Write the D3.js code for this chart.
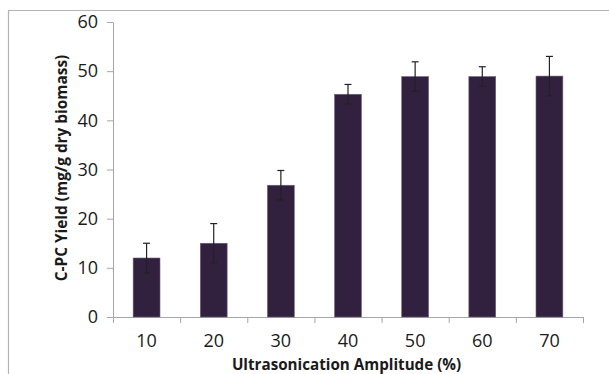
<!DOCTYPE html>
<html>
<head>
<meta charset="utf-8">
<script src="https://cdn.jsdelivr.net/npm/d3@7"></script>
<style>
  html, body { margin: 0; padding: 0; background: #fff; }
  svg { display: block; }
  text { font-family: "Open Sans", "Noto Sans", sans-serif; fill: #1a1a1a; }
</style>
</head>
<body>
<svg id="chart" width="609" height="374"></svg>
<script>
// Ultrasonication amplitude (%) vs. C-PC yield, mean ± error
const amplitudes = ["10", "20", "30", "40", "50", "60", "70"];
const yieldMean  = [12.0, 15.0, 26.8, 45.3, 48.9, 48.9, 49.0];
const yieldError = [3.0, 4.0, 3.0, 2.0, 3.0, 2.0, 4.0];
const yTicks     = [0, 10, 20, 30, 40, 50, 60];

const W = 609, H = 374;
const plot = { left: 113, right: 583, top: 22, bottom: 317 };

const svg = d3.select("#chart");

// outer frame (top and left edges visible)
svg.append("path")
  .attr("d", `M8.5,${H} V10.5 H${W}`)
  .attr("fill", "none")
  .attr("stroke", "#b4b4b4")
  .attr("stroke-width", 1.2);

const x = d3.scaleBand()
  .domain(amplitudes)
  .range([plot.left, plot.right])
  .paddingInner(0.6)
  .paddingOuter(0.3);

const y = d3.scaleLinear()
  .domain([0, 60])
  .range([plot.bottom, plot.top]);

// y axis
const yAxis = svg.append("g")
  .attr("transform", `translate(${plot.left},0)`)
  .call(d3.axisLeft(y).tickValues(yTicks).tickSize(6).tickSizeOuter(0).tickPadding(9));
yAxis.select(".domain").attr("stroke", "#a6a6a6");
yAxis.selectAll(".tick line").attr("stroke", "#a6a6a6");
yAxis.selectAll(".tick text")
  .attr("font-size", 18)
  .attr("fill", "#1a1a1a")
  .attr("font-family", '"Open Sans", sans-serif');

// x axis line with tick marks between categories
const step = x.step();
const edges = d3.range(amplitudes.length + 1).map(i => plot.left + i * step);
svg.append("line")
  .attr("x1", plot.left).attr("x2", plot.right)
  .attr("y1", y(0) + 0.5).attr("y2", y(0) + 0.5)
  .attr("stroke", "#a6a6a6");
svg.selectAll(".xtick").data(edges).join("line")
  .attr("class", "xtick")
  .attr("x1", d => d + 0.5).attr("x2", d => d + 0.5)
  .attr("y1", y(0)).attr("y2", y(0) + 6)
  .attr("stroke", "#a6a6a6");

svg.selectAll(".xlabel").data(amplitudes).join("text")
  .attr("class", "xlabel")
  .attr("x", d => x(d) + x.bandwidth() / 2)
  .attr("y", 347)
  .attr("text-anchor", "middle")
  .attr("font-size", 18)
  .text(d => d);

// bars
const rows = amplitudes.map((a, i) => ({ a, v: yieldMean[i], e: yieldError[i] }));
svg.selectAll(".bar").data(rows).join("rect")
  .attr("class", "bar")
  .attr("x", d => x(d.a))
  .attr("y", d => y(d.v))
  .attr("width", x.bandwidth())
  .attr("height", d => y(0) - y(d.v))
  .attr("fill", "#31213f")
  .attr("stroke", "#6e6280")
  .attr("stroke-width", 0.6);

// error bars
const eb = svg.selectAll(".err").data(rows).join("g").attr("class", "err")
  .attr("stroke", "#222")
  .attr("stroke-width", 1.2);
eb.append("line")
  .attr("x1", d => x(d.a) + x.bandwidth() / 2)
  .attr("x2", d => x(d.a) + x.bandwidth() / 2)
  .attr("y1", d => y(d.v + d.e))
  .attr("y2", d => y(d.v - d.e));
eb.append("line")
  .attr("x1", d => x(d.a) + x.bandwidth() / 2 - 3.5)
  .attr("x2", d => x(d.a) + x.bandwidth() / 2 + 3.5)
  .attr("y1", d => y(d.v + d.e))
  .attr("y2", d => y(d.v + d.e));
eb.append("line")
  .attr("x1", d => x(d.a) + x.bandwidth() / 2 - 3.5)
  .attr("x2", d => x(d.a) + x.bandwidth() / 2 + 3.5)
  .attr("y1", d => y(d.v - d.e))
  .attr("y2", d => y(d.v - d.e));

// axis titles
svg.append("text")
  .attr("x", 346.5)
  .attr("y", 370)
  .attr("text-anchor", "middle")
  .attr("font-size", 15.2)
  .attr("font-weight", "bold")
  .text("Ultrasonication Amplitude (%)");

svg.append("text")
  .attr("transform", "translate(67,168) rotate(-90)")
  .attr("text-anchor", "middle")
  .attr("font-size", 15.4)
  .attr("font-weight", "bold")
  .text("C-PC Yield (mg/g dry biomass)");
</script>
</body>
</html>
